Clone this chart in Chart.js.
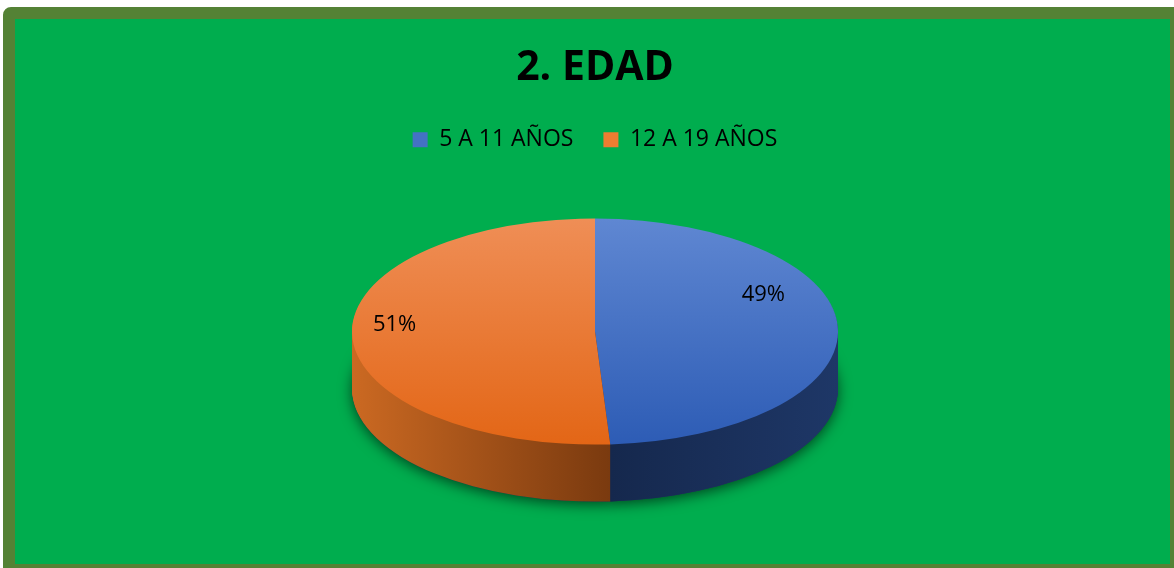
<!DOCTYPE html>
<html>
<head>
<meta charset="utf-8">
<title>2. EDAD</title>
<script src="https://cdn.jsdelivr.net/npm/chart.js@4.4.0/dist/chart.umd.min.js"></script>
<style>
	body { margin: 0; background: #ffffff; }
	.marco {
		position: absolute;
		left: 3px;
		top: 7px;
		width: 1155px;
		height: 545px;
		border: 12px solid #548235;
		border-radius: 8px;
		background: #00AD4E;
	}
	.marco canvas { display: block; }
</style>
</head>
<body>
<div class="marco">
	<canvas id="grafico"></canvas>
</div>
<script>
	// datos del grafico
	const titulo = "2. EDAD";
	const etiquetas = ["5 A 11 AÑOS", "12 A 19 AÑOS"];
	const valores = [49, 51];
	const colores = ["#4472C4", "#ED7D31"];

	// estilo del pastel 3D
	const RADIO_X = 243;
	const RADIO_Y = 113;
	const GROSOR = 57;
	const caraSuperior = [["#5F87D2", "#2D5CB5"], ["#EF8E56", "#E36616"]];
	const caraLateral = [["#15284D", "#1E3767"], ["#CB6922", "#7A3A0F"]];

	function caminoPorcion(ctx, arc) {
		ctx.beginPath();
		ctx.moveTo(arc.x, arc.y);
		ctx.arc(arc.x, arc.y, arc.outerRadius, arc.startAngle, arc.endAngle);
		ctx.closePath();
	}

	const pastel3d = {
		id: 'pastel3d',
		beforeDatasetsDraw(chart) {
			const ctx = chart.ctx;
			const arcos = chart.getDatasetMeta(0).data;
			const a0 = arcos[0];
			const cx = a0.x, cy = a0.y, r = a0.outerRadius;
			const sx = RADIO_X / r, sy = RADIO_Y / r;
			const split = 0.5 + Math.cos(arcos[0].endAngle) / 2;

			function transformar(d) {
				ctx.setTransform(1, 0, 0, 1, 0, 0);
				ctx.translate(cx, cy + d);
				ctx.scale(sx, sy);
				ctx.translate(-cx, -cy);
			}

			ctx.save();
			// sombra
			transformar(GROSOR);
			ctx.save();
			ctx.shadowColor = 'rgba(0,0,0,0.6)';
			ctx.shadowBlur = 14;
			ctx.shadowOffsetY = 3;
			ctx.fillStyle = '#1d3060';
			arcos.forEach(a => { caminoPorcion(ctx, a); ctx.fill(); });
			ctx.restore();

			// lados
			for (let d = GROSOR; d >= 1; d--) {
				transformar(d);
				arcos.forEach((a, i) => {
					const g = ctx.createLinearGradient(cx - r, 0, cx + r, 0);
					if (i === 0) {
						g.addColorStop(Math.min(split, 1), caraLateral[0][0]);
						g.addColorStop(1, caraLateral[0][1]);
					} else {
						g.addColorStop(0, caraLateral[1][0]);
						g.addColorStop(Math.min(split, 1), caraLateral[1][1]);
					}
					ctx.fillStyle = g;
					caminoPorcion(ctx, a);
					ctx.fill();
				});
			}

			// cara superior
			transformar(0);
			arcos.forEach((a, i) => {
				const g = ctx.createLinearGradient(0, cy - r, 0, cy + r);
				g.addColorStop(0, caraSuperior[i][0]);
				g.addColorStop(1, caraSuperior[i][1]);
				ctx.fillStyle = g;
				caminoPorcion(ctx, a);
				ctx.fill();
			});
			ctx.restore();

			// etiquetas de porcentaje (un poco giradas y elevadas, como en la vista 3D)
			ctx.save();
			ctx.font = '22px "Open Sans"';
			ctx.fillStyle = '#000000';
			ctx.textAlign = 'center';
			ctx.textBaseline = 'middle';
			const total = valores.reduce((s, v) => s + v, 0);
			const giro = -8 * Math.PI / 180;
			arcos.forEach((a, i) => {
				const medio = (a.startAngle + a.endAngle) / 2 + giro;
				const x = cx - 16 + Math.cos(medio) * RADIO_X * 0.77;
				const y = cy + Math.sin(medio) * RADIO_Y * 0.79 - 22;
				ctx.fillText(Math.round(valores[i] / total * 100) + '%', x, y);
			});
			ctx.restore();
			return false;
		}
	};

	Chart.defaults.font.family = '"Open Sans", sans-serif';
	Chart.defaults.color = '#000000';

	const contenedor = document.getElementById('grafico');
	contenedor.width = 1155;
	contenedor.height = 545;

	new Chart(contenedor, {
		type: 'pie',
		data: {
			labels: etiquetas,
			datasets: [{
				data: valores,
				backgroundColor: colores,
				borderWidth: 0
			}]
		},
		options: {
			responsive: false,
			animation: false,
			layout: { padding: { left: 5, bottom: 62 } },
			plugins: {
				title: {
					display: true,
					text: titulo,
					font: { size: 41, weight: 'bold' },
					padding: { top: 25, bottom: 5 }
				},
				legend: {
					position: 'top',
					labels: {
						boxWidth: 15,
						boxHeight: 15,
						padding: 30,
						font: { size: 23 }
					}
				},
				tooltip: { enabled: false }
			}
		},
		plugins: [pastel3d]
	});
</script>
</body>
</html>
